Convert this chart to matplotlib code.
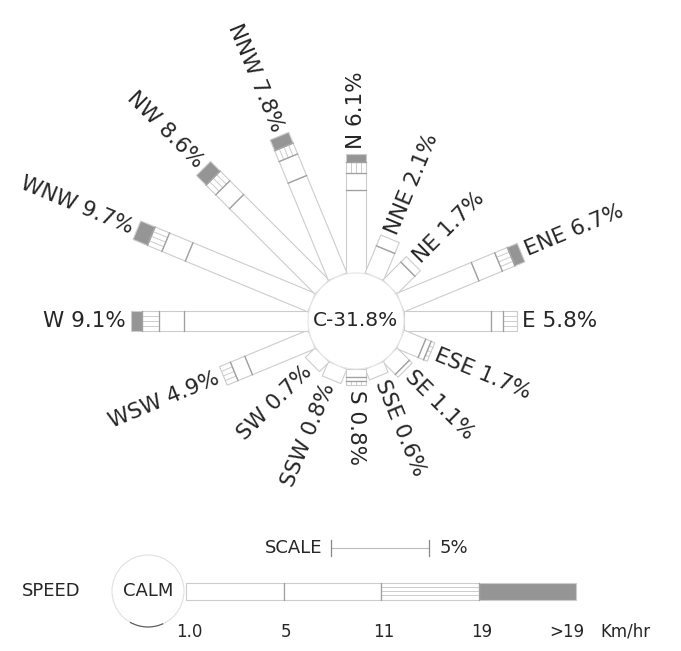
import numpy as np
import matplotlib
matplotlib.use("Agg")
import matplotlib.pyplot as plt
from matplotlib.patches import Polygon, Circle, Arc

# wind direction frequencies (%) split by speed class
directions = ["N", "NNE", "NE", "ENE", "E", "ESE", "SE", "SSE",
              "S", "SSW", "SW", "WSW", "W", "WNW", "NW", "NNW"]
totals = [6.1, 2.1, 1.7, 6.7, 5.8, 1.7, 1.1, 0.6,
          0.8, 0.8, 0.7, 4.9, 9.1, 9.7, 8.6, 7.8]
spd_1_5 = [4.25, 1.5, 1.3, 4.15, 4.45, 1.2, 0.9, 0.6,
           0.4, 0.8, 0.7, 3.5, 6.35, 6.8, 6.2, 5.4]
spd_5_11 = [0.9, 0.6, 0.4, 1.3, 0.65, 0.3, 0.2, 0.0,
            0.2, 0.0, 0.0, 0.8, 1.3, 1.3, 1.0, 1.2]
spd_11_19 = [0.55, 0.0, 0.0, 0.7, 0.7, 0.2, 0.0, 0.0,
             0.2, 0.0, 0.0, 0.6, 0.85, 0.8, 0.7, 0.6]
spd_gt19 = [0.4, 0.0, 0.0, 0.55, 0.0, 0.0, 0.0, 0.0,
            0.0, 0.0, 0.0, 0.0, 0.6, 0.8, 0.7, 0.6]
calm = 31.8
scale_pct = 5
speed_ticks = ["1.0", "5", "11", "19", ">19"]

# layout (pixels)
W_PX, H_PX = 681, 651
CX, CY = 356, 321
R0 = 48            # radius of the calm circle
PX_PER_PCT = 19.5  # 5% = ~97 px
BAR_W = 20
EDGE = "#cccccc"
DIV = "#a0a0a0"
GREY = "#959595"
TXT = "#262626"

fig = plt.figure(figsize=(W_PX / 100, H_PX / 100), dpi=100)
ax = fig.add_axes([0, 0, 1, 1])
ax.set_xlim(0, W_PX)
ax.set_ylim(H_PX, 0)
ax.set_aspect("equal")
ax.axis("off")


def seg_poly(p0, u, v, a, b, w):
    # rectangle along direction u from distance a to b, width w
    c0 = p0 + u * a
    c1 = p0 + u * b
    return np.array([c0 + v * w / 2, c1 + v * w / 2,
                     c1 - v * w / 2, c0 - v * w / 2])


def draw_bar(p0, u, v, parts, w, lw=0.8):
    start = 0.0
    for k, length in enumerate(parts):
        if length <= 0:
            continue
        end = start + length
        face = GREY if k == 3 else "white"
        ax.add_patch(Polygon(seg_poly(p0, u, v, start, end, w), closed=True,
                             facecolor=face, edgecolor=EDGE, lw=lw, zorder=2))
        if k == 2:
            for off in (-w / 4, 0, w / 4):
                a = p0 + u * start + v * off
                b = p0 + u * end + v * off
                ax.plot([a[0], b[0]], [a[1], b[1]], color=EDGE, lw=0.7, zorder=3)
        if k > 0:
            a = p0 + u * start + v * w / 2
            b = p0 + u * start - v * w / 2
            ax.plot([a[0], b[0]], [a[1], b[1]], color=DIV, lw=0.9, zorder=3)
        start = end
    return start


centre = np.array([CX, CY], dtype=float)
for i, name in enumerate(directions):
    th = np.radians(i * 22.5)
    u = np.array([np.sin(th), -np.cos(th)])
    v = np.array([np.cos(th), np.sin(th)])
    parts = [spd_1_5[i] * PX_PER_PCT, spd_5_11[i] * PX_PER_PCT,
             spd_11_19[i] * PX_PER_PCT, spd_gt19[i] * PX_PER_PCT]
    draw_bar(centre + u * R0, u, v, parts, BAR_W)
    pos = centre + u * (R0 + totals[i] * PX_PER_PCT + 5)
    ang = 90 - i * 22.5
    if i * 22.5 <= 180:
        rot, ha = ang, "left"
    else:
        rot, ha = ang + 180, "right"
    ax.text(pos[0], pos[1], f"{name} {totals[i]}%", rotation=rot, ha=ha,
            va="center", rotation_mode="anchor", fontsize=15.5, color=TXT,
            zorder=5)

ax.add_patch(Circle((CX, CY), R0, facecolor="white", edgecolor="#e6e6e6",
                    lw=0.8, zorder=4))
ax.text(CX, CY, f"C-{calm}%", ha="center", va="center", fontsize=14.5,
        color=TXT, zorder=5)

# scale bar
sx0, sy = 331, 548
sx1 = sx0 + scale_pct * PX_PER_PCT
ax.plot([sx0, sx1], [sy, sy], color="#bbbbbb", lw=0.8)
ax.plot([sx0, sx0], [sy - 8, sy + 8], color="#888888", lw=0.9)
ax.plot([sx1, sx1], [sy - 8, sy + 8], color="#888888", lw=0.9)
ax.text(sx0 - 9, sy, "SCALE", ha="right", va="center", fontsize=13, color=TXT)
ax.text(sx1 + 11, sy, f"{scale_pct}%", ha="left", va="center", fontsize=13,
        color=TXT)

# speed legend
ly = 591
lx0 = 186
seg = scale_pct * PX_PER_PCT
draw_bar(np.array([lx0, ly], dtype=float), np.array([1.0, 0.0]),
         np.array([0.0, 1.0]), [seg, seg, seg, seg], 17)
ax.text(22, ly, "SPEED", ha="left", va="center", fontsize=13, color=TXT)
ax.add_patch(Circle((148, ly), 36, facecolor="none", edgecolor="#e0e0e0", lw=0.8))
ax.add_patch(Arc((148, ly), 72, 72, theta1=65, theta2=120, color="#555555", lw=0.8))
ax.text(148, ly, "CALM", ha="center", va="center", fontsize=13, color=TXT)
for k, lab in enumerate(speed_ticks):
    ax.text(lx0 + 3 + k * seg - (12 if k == 4 else 0), 632, lab, ha="center",
            va="center", fontsize=12, color=TXT)
ax.text(lx0 + 4 * seg + 24, 632, "Km/hr", ha="left", va="center", fontsize=12,
        color=TXT)

fig.savefig("out.png", dpi=100)
